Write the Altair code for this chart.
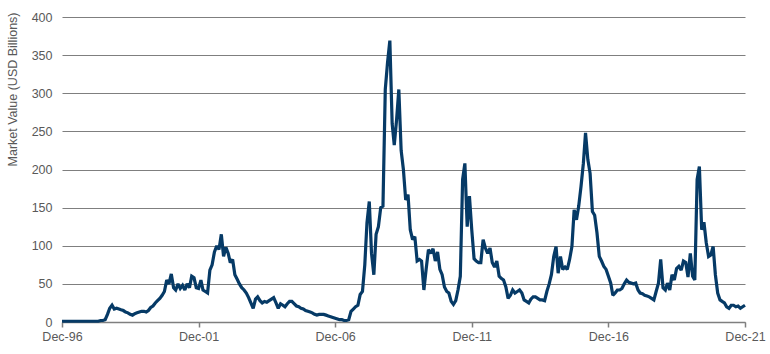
import altair as alt
import pandas as pd

# Monthly market value (USD billions), Dec-1996 .. Dec-2021 (301 months)
values = [
    # Dec-96 .. Jun-98 (m 0-18)
    1, 1, 1, 1, 1, 1, 1, 1, 1, 1, 1, 1, 1, 1, 1, 1, 1, 2, 2,
    # m 19-49
    3, 10, 18, 22, 17, 18, 17, 16, 15, 13, 12, 10, 9, 11, 12, 13, 14, 14, 13, 15,
    19, 21, 25, 28, 31, 35, 40, 55, 50, 63, 45,
    # m 50-99
    42, 50, 44, 48, 42, 50, 45, 60, 58, 45, 44, 55, 42, 40, 38, 68, 75, 92, 100, 95,
    115, 86, 98, 90, 78, 82, 62, 56, 50, 45, 42, 38, 32, 25, 18, 30, 33, 28, 25, 27,
    26, 28, 30, 32, 25, 18, 24, 22, 20, 24,
    # m 100-149
    27, 27, 24, 21, 20, 18, 17, 15, 14, 13, 12, 10, 9, 10, 10, 10, 9, 8, 7, 6,
    5, 4, 3, 3, 2, 2, 3, 14, 17, 20, 22, 36, 40, 75, 130, 158, 90, 62, 115, 125,
    150, 152, 305, 340, 369, 260, 232, 265, 305, 225,
    # m 150-199
    200, 160, 167, 121, 108, 112, 80, 82, 80, 42, 69, 95, 90, 96, 80, 92, 69, 62, 46, 40,
    38, 27, 23, 28, 42, 60, 187, 208, 125, 165, 121, 83, 80, 78, 78, 108, 97, 90, 97, 78,
    72, 80, 60, 57, 55, 46, 31, 35, 42, 38,
    # m 200-249
    40, 42, 38, 29, 27, 25, 30, 33, 33, 31, 29, 29, 28, 40, 50, 62, 86, 99, 64, 86,
    69, 72, 69, 82, 99, 147, 134, 152, 178, 208, 248, 213, 195, 145, 140, 117, 86, 80, 73, 69,
    60, 51, 35, 38, 42, 42, 44, 50, 55, 52,
    # m 250-300
    51, 50, 51, 42, 38, 37, 35, 34, 33, 31, 29, 40, 51, 82, 45, 42, 51, 42, 62, 55,
    70, 73, 68, 80, 78, 59, 90, 60, 55, 187, 204, 121, 131, 104, 86, 88, 99, 62, 38, 29,
    27, 25, 20, 18, 22, 22, 20, 21, 18, 20, 22,
]

dates = pd.date_range("1996-12-31", periods=len(values), freq="ME").strftime("%Y-%m-%d").tolist()
df = pd.DataFrame({"date": dates, "value": values})

tick_years = [1996, 2001, 2006, 2011, 2016, 2021]
tick_vals = [alt.DateTime(year=y, month=12, date=31, utc=True) for y in tick_years]

grey_text = "#595959"

chart = (
    alt.Chart(df)
    .mark_line(color="#063a66", strokeWidth=3.2, strokeJoin="miter", strokeMiterLimit=2)
    .encode(
        x=alt.X(
            "date:T",
            scale=alt.Scale(
                type="utc",
                domain=[alt.DateTime(year=1996, month=12, date=31, utc=True),
                        alt.DateTime(year=2021, month=12, date=31, utc=True)],
                nice=False,
            ),
            axis=alt.Axis(
                values=tick_vals,
                format="%b-%y",
                title=None,
                grid=False,
                domainColor="#7f7f7f",
                domainWidth=1.5,
                tickColor="#7f7f7f",
                tickWidth=1.5,
                tickSize=5,
                labelPadding=3,
                labelFont="Liberation Sans",
                labelFontSize=12.5,
                labelColor=grey_text,
                labelFlush=False,
                labelOverlap=False,
            ),
        ),
        y=alt.Y(
            "value:Q",
            scale=alt.Scale(domain=[0, 400], nice=False, zero=True),
            axis=alt.Axis(
                values=[0, 50, 100, 150, 200, 250, 300, 350, 400],
                title="Market Value (USD Billions)",
                titleFont="Liberation Sans",
                titleFontSize=12.5,
                titleFontWeight="normal",
                titleColor=grey_text,
                titleAngle=270,
                titleAlign="right",
                titleBaseline="middle",
                titleX=-50,
                titleY=-5,
                domain=False,
                ticks=False,
                tickSize=0,
                labelPadding=10,
                labelFont="Liberation Sans",
                labelFontSize=12.5,
                labelColor=grey_text,
                grid=True,
                gridColor="#7f7f7f",
                gridWidth=1,
            ),
        ),
    )
    .properties(
        width=683,
        height=305,
        autosize=alt.AutoSizeParams(type="none"),
        padding={"left": 62, "top": 17, "right": 25, "bottom": 32},
        background="white",
    )
    .configure_view(stroke=None)
)

chart.save("out.html", embed_options={"renderer": "svg", "actions": False})
